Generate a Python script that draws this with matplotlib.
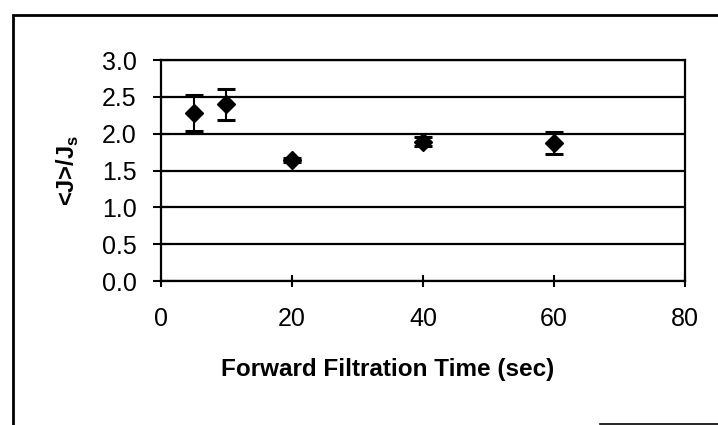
import matplotlib.pyplot as plt
from matplotlib.patches import Rectangle
from matplotlib.lines import Line2D

times = [5, 10, 20, 40, 60]
ratio = [2.28, 2.40, 1.64, 1.89, 1.87]
err = [0.25, 0.21, 0.03, 0.06, 0.15]

plt.rcParams['font.family'] = ['Liberation Sans', 'DejaVu Sans']

fig = plt.figure(figsize=(7.18, 4.25), dpi=100)
ax = fig.add_axes([0.2242, 0.3388, 0.7298, 0.52])

ax.errorbar(times, ratio, yerr=err, fmt='D', color='black', markersize=9.5,
            ecolor='black', elinewidth=1.5, capsize=6.5, capthick=2.2)

ax.set_xlim(0, 80)
ax.set_ylim(0, 3.0)
ax.set_xticks([0, 20, 40, 60, 80])
ax.set_yticks([0, 0.5, 1.0, 1.5, 2.0, 2.5, 3.0])
ax.set_yticklabels(['0.0', '0.5', '1.0', '1.5', '2.0', '2.5', '3.0'])
ax.yaxis.grid(True, color='black', linewidth=1.6)
ax.set_axisbelow(True)
for s in ax.spines.values():
    s.set_linewidth(1.6)
ax.tick_params(axis='y', direction='inout', length=11, width=1.5, labelsize=18, pad=12)
ax.tick_params(axis='x', direction='inout', length=9, width=1.5, labelsize=18, pad=14)

ax.set_xlabel('Forward Filtration Time (sec)', fontsize=17.5, fontweight='bold', labelpad=20)
ax.xaxis.label.set_x(0.433)
ax.set_ylabel(r'<J>/J$_\mathregular{s}$', fontsize=17, fontweight='bold', labelpad=15)

# outer chart frame, cut off by the scan at right and bottom
fig.patches.append(Rectangle((0.018, -0.1), 1.1, 1.065, transform=fig.transFigure,
                             fill=False, edgecolor='black', linewidth=2))
fig.lines.append(Line2D([600 / 718, 1.0], [0.003, 0.003], transform=fig.transFigure,
                        color='black', linewidth=1.2))

fig.savefig('out.png', dpi=100)
